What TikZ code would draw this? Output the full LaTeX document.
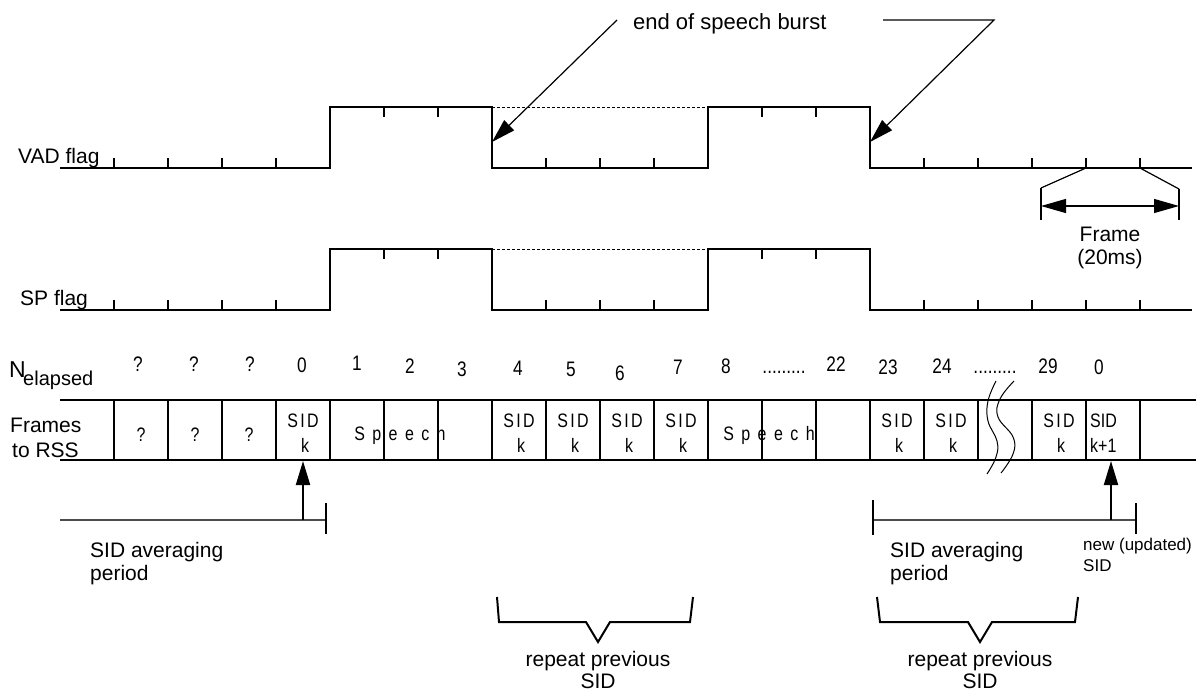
\documentclass[tikz,border=0pt]{standalone}
\usepackage{fontspec}
\setmainfont{Liberation Sans}
\newfontfamily\narrowfont[FakeStretch=0.82]{Liberation Sans}
\newfontfamily\spacedfont[FakeStretch=0.82,LetterSpace=12]{Liberation Sans}
\newfontfamily\widefont[FakeStretch=0.82,LetterSpace=38]{Liberation Sans}
\usetikzlibrary{arrows.meta}
\tikzset{
  txt/.style={inner sep=0pt, font=\fontsize{21}{24}\selectfont, anchor=base west},
  txtc/.style={inner sep=0pt, font=\fontsize{21}{24}\selectfont, anchor=base},
  small/.style={inner sep=0pt, font=\fontsize{17}{20}\selectfont, anchor=base west},
  num/.style={inner sep=0pt, font=\narrowfont\fontsize{21}{24}\selectfont, anchor=base},
  cell/.style={inner sep=0pt, font=\narrowfont\fontsize{19.5}{22}\selectfont, anchor=base},
  sidtxt/.style={inner sep=0pt, font=\spacedfont\fontsize{19.5}{22}\selectfont, anchor=base},
  speechtxt/.style={inner sep=0pt, font=\widefont\fontsize{19.5}{22}\selectfont, anchor=base},
  wave/.style={line width=2.4pt},
  tickln/.style={line width=2.4pt},
  conn/.style={line width=1.2pt},
  brace/.style={line width=2pt},
  bighead/.style={-{Triangle[length=24pt,width=14pt]}},
  dbl/.style={{Triangle[length=25pt,width=14pt]}-{Triangle[length=25pt,width=14pt]}},
}
\begin{document}
\begin{tikzpicture}[x=1pt,y=-1pt]
\useasboundingbox (0,0) rectangle (1196,693);

% ---------- VAD flag ----------
\node[txt] (vadlbl) at (18,163) {VAD flag};
\draw[wave] (60,168) -- (330,168) -- (330,107) -- (492,107) -- (492,168) -- (708,168) -- (708,107) -- (870,107) -- (870,168) -- (1192,168);
\foreach \x in {114,168,222,276,546,600,654,924,978,1032,1086,1140} \draw[tickln] (\x,168) -- (\x,158);
\foreach \x in {384,438,762,816} \draw[tickln] (\x,107) -- (\x,117);
\draw[densely dashed, line width=0.8pt] (492,107) -- (708,107);

% ---------- SP flag ----------
\node[txt] (splbl) at (20,305) {SP flag};
\draw[wave] (60,310) -- (330,310) -- (330,249) -- (492,249) -- (492,310) -- (708,310) -- (708,249) -- (870,249) -- (870,310) -- (1192,310);
\foreach \x in {114,168,222,276,546,600,654,924,978,1032,1086,1140} \draw[tickln] (\x,310) -- (\x,300);
\foreach \x in {384,438,762,816} \draw[tickln] (\x,249) -- (\x,259);
\draw[densely dashed, line width=0.8pt] (492,249) -- (708,249);

% ---------- end of speech burst ----------
\node[inner sep=0pt, font=\fontsize{22}{26}\selectfont, anchor=base west] (eosb) at (633,30) {end of speech burst};
\coordinate (eA) at (617,20);
\coordinate (eAt) at (492,142);
\coordinate (eB0) at (883,20);
\coordinate (eB1) at (994,20);
\coordinate (eBt) at (870,142);
\draw[conn, bighead] (eA) -- (eAt);
\draw[conn, bighead] (eB0) -- (eB1) -- (eBt);

% ---------- Frame (20ms) ----------
\coordinate (fL0) at (1086,168);
\coordinate (fL1) at (1041,188);
\coordinate (fL2) at (1041,220);
\coordinate (fR0) at (1140,168);
\coordinate (fR1) at (1179,189);
\coordinate (fR2) at (1179,220);
\draw[conn] (fL0) -- (fL1);
\draw[brace] (fL1) -- (fL2);
\draw[conn] (fR0) -- (fR1);
\draw[brace] (fR1) -- (fR2);
\coordinate (fa) at (1041,206);
\coordinate (fb) at (1179,206);
\draw[conn, dbl] (fa) -- (fb);
\node[txtc] (frm) at (1110,241) {Frame};
\node[txtc] (frm2) at (1110,264) {(20ms)};

% ---------- N elapsed ----------
\node[inner sep=0pt, font=\fontsize{23}{26}\selectfont, anchor=base west] (nlbl) at (9,377) {N};
\node[inner sep=0pt, font=\fontsize{20}{24}\selectfont, anchor=base west] (nsub) at (23,385) {elapsed};
\node[num] (n1) at (138,371) {?};
\node[num] (n2) at (194,371) {?};
\node[num] (n3) at (250,371) {?};
\node[num] (n4) at (302,372) {0};
\node[num] (n5) at (357,370) {1};
\node[num] (n6) at (410,373) {2};
\node[num] (n7) at (462,376) {3};
\node[num] (n8) at (518,375) {4};
\node[num] (n9) at (571,376) {5};
\node[num] (n10) at (620,380) {6};
\node[num] (n11) at (678,374) {7};
\node[num] (n12) at (726,373) {8};
\node[num] (n13) at (784,373) {.........};
\node[num] (n14) at (836,371) {22};
\node[num] (n15) at (888,374) {23};
\node[num] (n16) at (942,373) {24};
\node[num] (n17) at (995,373) {.........};
\node[num] (n18) at (1048,373) {29};
\node[num] (n19) at (1099,374) {0};

% ---------- Frames to RSS ----------
\node[txt] (fr1) at (10,432) {Frames};
\node[txt] (fr2) at (12,457) {to RSS};
\draw[wave] (60,400) -- (1196,400);
\draw[wave] (60,460) -- (1196,460);
\foreach \x in {114,168,...,1140} \draw[wave] (\x,400) -- (\x,460);

\node[cell] (q1) at (141,441) {?};
\node[cell] (q2) at (195,441) {?};
\node[cell] (q3) at (249,441) {?};
\foreach \x/\n in {303/a,519/b,573/c,627/d,681/e,897/f,951/g,1059/h}{
  \node[sidtxt] (sid\n) at (\x,427) {SID};
  \node[cell] (k\n) at (\x+2,452) {k};
}
\node[speechtxt] (sp1) at (400,440) {Speech};
\node[speechtxt] (sp2) at (769,440) {Speech};
\node[inner sep=0pt, font=\narrowfont\fontsize{19.5}{22}\selectfont, anchor=base west] (sidn) at (1090,427) {SID};
\node[inner sep=0pt, font=\narrowfont\fontsize{19.5}{22}\selectfont, anchor=base west] (kn) at (1090,452) {k+1};

% squiggle (break)
\draw[line width=1pt] plot[smooth, tension=0.7] coordinates {(996,381) (988,401) (988,421) (997,441) (996,457) (987,474)};
\draw[line width=1pt] plot[smooth, tension=0.7] coordinates {(1014,381) (1000,399) (998,417) (1013,437) (1013,454) (1001,473)};

% ---------- averaging periods ----------
\coordinate (upA0) at (303,520);
\coordinate (upA1) at (303,461);
\coordinate (upB0) at (1111,520);
\coordinate (upB1) at (1111,461);
\coordinate (avL0) at (60,520);
\coordinate (avL1) at (326,520);
\coordinate (avR0) at (873,520);
\coordinate (avR1) at (1136,520);
\draw[line width=1.3pt, black!70] (avL0) -- (avL1);
\draw[line width=1.3pt, black!70] (avR0) -- (avR1);
\draw[brace] (326,503) -- (326,534);
\draw[brace] (873,500) -- (873,535);
\draw[brace] (1136,503) -- (1136,534);
\draw[line width=2pt, bighead] (upA0) -- (upA1);
\draw[line width=2pt, bighead] (upB0) -- (upB1);

\node[txt] (avg1) at (90,557) {SID averaging};
\node[txt] (avg1b) at (90,580) {period};
\node[txt] (avg2) at (890,557) {SID averaging};
\node[txt] (avg2b) at (890,580) {period};
\node[small] (newsid) at (1083,550) {new (updated)};
\node[small] (newsid2) at (1083,571) {SID};

% ---------- repeat previous SID ----------
\draw[brace] (497,597) -- (499,622) -- (586,622) -- (598,642) -- (610,622) -- (690,622) -- (693,597);
\draw[brace] (877,597) -- (880,622) -- (968,622) -- (980,642) -- (992,622) -- (1075,622) -- (1078,597);
\node[txtc] (rep1) at (598,666) {repeat previous};
\node[txtc] (rep1b) at (598,688) {SID};
\node[txtc] (rep2) at (980,666) {repeat previous};
\node[txtc] (rep2b) at (980,688) {SID};
\end{tikzpicture}
\end{document}
